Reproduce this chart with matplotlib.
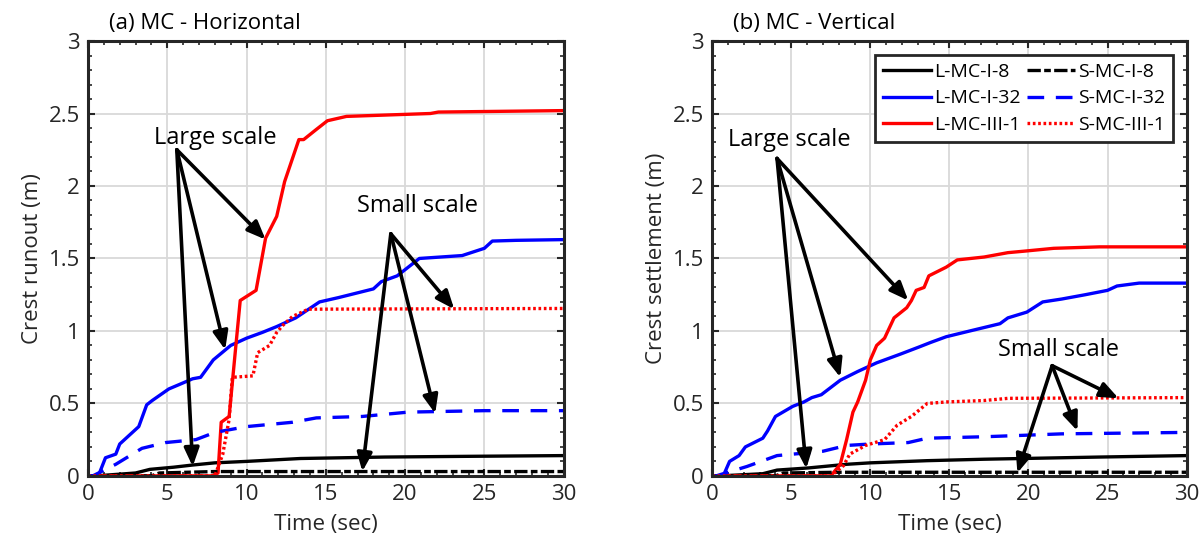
import numpy as np
import matplotlib.pyplot as plt

plt.rcParams['font.family'] = ['Open Sans', 'DejaVu Sans']

# ---- (a) horizontal: crest runout (m) ----
h_L8_t = [0, 0.5, 3, 3.9, 5.4, 6.6, 8, 10, 13.4, 18.7, 24, 30]
h_L8_v = [0, 0, 0.02, 0.045, 0.06, 0.075, 0.09, 0.1, 0.12, 0.13, 0.135, 0.14]
h_S8_t = [0, 4.0, 4.5, 8, 15, 30]
h_S8_v = [0, 0, 0.02, 0.03, 0.03, 0.03]
h_L32_t = [0, 0.65, 1.1, 1.75, 2.0, 3.2, 3.7, 4.05, 5.1, 5.75, 6.6, 7.1, 7.9, 9.0, 10, 11,
           11.9, 13.1, 14.6, 15.8, 18, 18.5, 19.5, 20.9, 23.6, 25, 25.5, 27, 30]
h_L32_v = [0, 0, 0.125, 0.15, 0.22, 0.34, 0.49, 0.52, 0.6, 0.63, 0.67, 0.68, 0.8, 0.9, 0.95, 0.99,
           1.03, 1.09, 1.2, 1.23, 1.29, 1.34, 1.38, 1.5, 1.52, 1.57, 1.62, 1.625, 1.63]
h_S32_t = [0, 0.3, 1.75, 3.4, 4.9, 6.8, 8, 10, 12.9, 14.4, 17.3, 20.2, 25, 30]
h_S32_v = [0, 0, 0.08, 0.19, 0.23, 0.25, 0.3, 0.34, 0.37, 0.4, 0.41, 0.44, 0.45, 0.45]
h_LIII_t = [0, 7.8, 8.2, 8.4, 8.9, 9.3, 9.6, 10.6, 11.2, 11.9, 12.4, 13.3, 13.6, 14.4, 15.1,
            16.3, 21.6, 22.1, 30]
h_LIII_v = [0, 0, 0.02, 0.37, 0.41, 0.87, 1.21, 1.28, 1.64, 1.79, 2.03, 2.32, 2.32, 2.39, 2.45,
            2.48, 2.5, 2.51, 2.52]
h_SIII_t = [0, 8.0, 8.5, 8.9, 9.1, 10.4, 10.7, 11.45, 11.9, 12.3, 12.9, 13.9, 30]
h_SIII_v = [0, 0, 0.15, 0.39, 0.68, 0.69, 0.85, 0.9, 0.99, 1.04, 1.1, 1.15, 1.155]

# ---- (b) vertical: crest settlement (m) ----
v_L8_t = [0, 0.5, 3.2, 4.1, 6.1, 8.5, 10, 13.6, 17.2, 24.5, 30]
v_L8_v = [0, 0, 0.015, 0.04, 0.055, 0.08, 0.09, 0.105, 0.115, 0.13, 0.14]
v_S8_t = [0, 4.0, 4.5, 8, 15, 30]
v_S8_v = [0, 0, 0.02, 0.025, 0.025, 0.025]
v_L32_t = [0, 0.7, 1.1, 1.7, 2.1, 3.2, 3.5, 4.0, 5.1, 5.8, 6.3, 6.9, 7.5, 8.1, 9.2, 10.4, 11.9,
           13.1, 13.8, 14.8, 16.3, 18.2, 18.7, 19.9, 20.9, 22.1, 23.6, 25, 25.6, 27, 30]
v_L32_v = [0, 0, 0.1, 0.14, 0.2, 0.26, 0.31, 0.41, 0.48, 0.51, 0.54, 0.56, 0.61, 0.66, 0.72, 0.78,
           0.84, 0.89, 0.92, 0.96, 1.0, 1.05, 1.09, 1.13, 1.2, 1.22, 1.25, 1.28, 1.31, 1.33, 1.33]
v_S32_t = [0, 0.25, 2.2, 4.1, 6.1, 7, 8.5, 10, 12.4, 13.6, 17.2, 19.7, 22.1, 30]
v_S32_v = [0, 0, 0.065, 0.14, 0.16, 0.17, 0.21, 0.22, 0.23, 0.26, 0.27, 0.28, 0.29, 0.3]
v_LIII_t = [0, 7.5, 8.1, 8.5, 8.9, 9.2, 9.7, 10, 10.4, 10.9, 11.5, 12.3, 12.6, 12.9, 13.4, 13.7,
            14.8, 15.5, 17.2, 18.7, 19.7, 21.6, 24.5, 30]
v_LIII_v = [0, 0, 0.08, 0.25, 0.44, 0.51, 0.66, 0.8, 0.9, 0.95, 1.09, 1.16, 1.21, 1.28, 1.3, 1.38,
            1.44, 1.49, 1.51, 1.54, 1.55, 1.57, 1.58, 1.58]
v_SIII_t = [0, 7.5, 8.3, 8.7, 9.7, 10.9, 11.7, 12.6, 13.6, 14.8, 17.2, 18.7, 30]
v_SIII_v = [0, 0, 0.07, 0.15, 0.21, 0.25, 0.35, 0.41, 0.5, 0.51, 0.52, 0.535, 0.54]

labels = ["L-MC-I-8", "L-MC-I-32", "L-MC-III-1", "S-MC-I-8", "S-MC-I-32", "S-MC-III-1"]

FS = 16

fig = plt.figure(figsize=(12.01, 5.47), dpi=100)
ax1 = fig.add_axes([0.0733, 0.130, 0.396, 0.795])
ax2 = fig.add_axes([0.593, 0.130, 0.395, 0.795])

def draw(ax, series):
    lw = 2.4
    styles = [
        dict(color='black', ls='-'),
        dict(color='#0000ff', ls='-'),
        dict(color='#ff0000', ls='-'),
        dict(color='black', ls=(0, (4, 1, 2, 1))),
        dict(color='#0000ff', ls=(0, (5, 3.5))),
        dict(color='#ff0000', ls=(0, (0.8, 0.8))),
    ]
    for (t, v), st, lab in zip(series, styles, labels):
        ax.plot(t, v, lw=lw, label=lab, **st)
    ax.set_xlim(0, 30)
    ax.set_ylim(0, 3)
    ax.set_xticks(np.arange(0, 31, 5))
    ax.set_yticks(np.arange(0, 3.01, 0.5))
    ax.set_yticklabels(['0', '0.5', '1', '1.5', '2', '2.5', '3'])
    ax.set_xticks(np.arange(0, 31, 1), minor=True)
    ax.set_yticks(np.arange(0, 3.01, 0.1), minor=True)
    ax.tick_params(which='both', direction='in', top=True, right=True,
                   colors='#262626', labelsize=FS)
    ax.tick_params(which='major', length=5, width=1.5, pad=6)
    ax.tick_params(which='minor', length=3, width=1.2)
    ax.grid(True, which='major', color='#d9d9d9', lw=1.3)
    ax.set_axisbelow(True)
    for s in ax.spines.values():
        s.set_linewidth(2.2)
        s.set_color('#262626')
    ax.set_xlabel('Time (sec)', fontsize=FS, color='#262626', labelpad=6)

draw(ax1, [(h_L8_t, h_L8_v), (h_L32_t, h_L32_v), (h_LIII_t, h_LIII_v),
           (h_S8_t, h_S8_v), (h_S32_t, h_S32_v), (h_SIII_t, h_SIII_v)])
draw(ax2, [(v_L8_t, v_L8_v), (v_L32_t, v_L32_v), (v_LIII_t, v_LIII_v),
           (v_S8_t, v_S8_v), (v_S32_t, v_S32_v), (v_SIII_t, v_SIII_v)])

ax1.set_ylabel('Crest runout (m)', fontsize=FS, color='#262626')
ax2.set_ylabel('Crest settlement (m)', fontsize=FS, color='#262626')
ax1.text(1.3, 3.05, '(a) MC - Horizontal', fontsize=FS, va='bottom')
ax2.text(1.3, 3.05, '(b) MC - Vertical', fontsize=FS, va='bottom')

leg = ax2.legend(ncol=2, loc='upper right', bbox_to_anchor=(0.972, 0.968), borderaxespad=0,
                 fontsize=14, handlelength=2.5, columnspacing=0.3, handletextpad=0.15,
                 labelspacing=0.45, fancybox=False, framealpha=1, borderpad=0.4)
leg.get_frame().set_edgecolor('#262626')
leg.get_frame().set_linewidth(2)

arrow = dict(arrowstyle='-|>,head_length=1.1,head_width=0.45', color='black', lw=2.6,
             shrinkA=0, shrinkB=0)

def callout(ax, text, txy, origin, targets):
    ax.text(txy[0], txy[1], text, fontsize=17, ha='center', va='center')
    for tg in targets:
        ax.annotate('', xy=tg, xytext=origin, arrowprops=arrow)

callout(ax1, 'Large scale', (8.0, 2.33), (5.6, 2.25), [(11.2, 1.63), (8.65, 0.87), (6.6, 0.065)])
callout(ax1, 'Small scale', (20.8, 1.86), (19.1, 1.67), [(23.1, 1.15), (21.9, 0.43), (17.3, 0.03)])
callout(ax2, 'Large scale', (4.9, 2.32), (4.1, 2.19), [(12.4, 1.21), (8.1, 0.68), (5.95, 0.05)])
callout(ax2, 'Small scale', (21.9, 0.87), (21.5, 0.76), [(25.7, 0.535), (23.1, 0.31), (19.3, 0.02)])

fig.savefig('out.png', dpi=100)
